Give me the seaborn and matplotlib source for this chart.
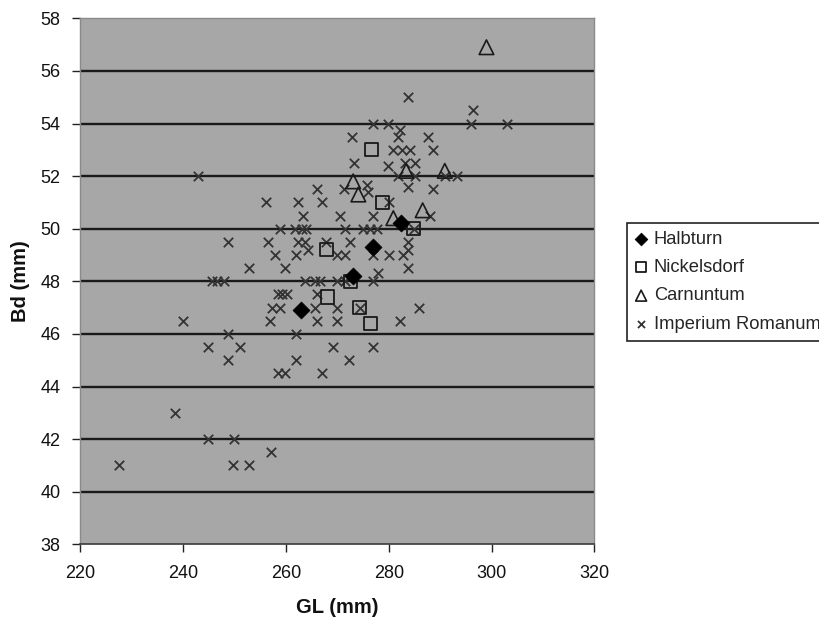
import matplotlib
matplotlib.use("Agg")
import matplotlib.pyplot as plt
import pandas as pd
import seaborn as sns

# ---------------- data ----------------
halbturn_gl = [262.9, 273.1, 276.9, 282.4]
halbturn_bd = [46.9, 48.2, 49.3, 50.2]

nickelsdorf_gl = [276.7, 278.8, 267.9, 284.9, 272.6, 268.1, 274.4, 276.4]
nickelsdorf_bd = [53.0, 51.0, 49.2, 50.0, 48.0, 47.4, 47.0, 46.4]

carnuntum_gl = [299.0, 290.9, 283.4, 273.1, 274.1, 286.6, 280.9]
carnuntum_bd = [56.9, 52.2, 52.2, 51.8, 51.3, 50.7, 50.4]

imperium_gl = [
    283.8,
    296.3,
    276.9, 279.9, 295.9, 302.9,
    282.2,
    272.8, 281.9, 287.7,
    280.9, 282.5, 284.1, 288.7,
    273.3, 283.2, 285.1, 279.9,
    243.0, 281.9, 285.1, 290.9, 293.2,
    275.7, 283.8,
    266.0, 271.3, 288.7,
    276.0,
    256.1, 262.4, 267.0, 280.1,
    263.4, 270.5, 276.9, 288.0,
    258.9, 261.8, 263.1, 264.0, 271.5, 275.1, 276.4, 277.7, 285.0,
    248.8, 256.5, 262.3, 263.7, 267.9, 272.5, 283.8,
    264.4, 283.8,
    257.9, 262.0, 269.9, 271.5, 276.9, 280.1, 282.7,
    252.9, 259.8, 283.8,
    278.0,
    245.6, 246.6, 247.9, 263.7, 265.7, 266.6, 269.9, 271.5, 276.9,
    258.4, 259.2, 260.2, 266.0,
    257.3, 258.9, 265.7, 270.0, 274.4, 285.8,
    240.0, 256.9, 266.0, 270.0, 282.2,
    248.8, 262.0,
    244.9, 251.1, 269.2, 276.9,
    248.8, 262.0, 272.2,
    258.5, 259.8, 267.0,
    238.5,
    244.9, 250.0,
    257.1,
    227.5, 249.8, 252.9,
]
imperium_bd = [
    55.0,
    54.5,
    54.0, 54.0, 54.0, 54.0,
    53.75,
    53.5, 53.5, 53.5,
    53.0, 53.0, 53.0, 53.0,
    52.5, 52.5, 52.5, 52.4,
    52.0, 52.0, 52.0, 52.0, 52.0,
    51.66, 51.6,
    51.5, 51.5, 51.5,
    51.4,
    51.0, 51.0, 51.0, 51.0,
    50.5, 50.5, 50.5, 50.5,
    50.0, 50.0, 50.0, 50.0, 50.0, 50.0, 50.0, 50.0, 50.0,
    49.5, 49.5, 49.5, 49.5, 49.5, 49.5, 49.5,
    49.2, 49.2,
    49.0, 49.0, 49.0, 49.0, 49.0, 49.0, 49.0,
    48.5, 48.5, 48.5,
    48.3,
    48.0, 48.0, 48.0, 48.0, 48.0, 48.0, 48.0, 48.0, 48.0,
    47.5, 47.5, 47.5, 47.5,
    47.0, 47.0, 47.0, 47.0, 47.0, 47.0,
    46.5, 46.5, 46.5, 46.5, 46.5,
    46.0, 46.0,
    45.5, 45.5, 45.5, 45.5,
    45.0, 45.0, 45.0,
    44.5, 44.5, 44.5,
    43.0,
    42.0, 42.0,
    41.5,
    41.0, 41.0, 41.0,
]

x_ticks = [220, 240, 260, 280, 300, 320]
y_ticks = [38, 40, 42, 44, 46, 48, 50, 52, 54, 56, 58]

# ---------------- figure ----------------
sns.set_style("white")
plt.rcParams["font.family"] = ["Liberation Sans", "DejaVu Sans"]

fig = plt.figure(figsize=(8.2, 6.21), dpi=100)
ax = fig.add_axes([80 / 820, 1 - 544.3 / 621, 514.5 / 820, 526.0 / 621])
ax.set_facecolor("#a7a7a7")

df_imp = pd.DataFrame({"GL": imperium_gl, "Bd": imperium_bd})
df_hal = pd.DataFrame({"GL": halbturn_gl, "Bd": halbturn_bd})
df_nic = pd.DataFrame({"GL": nickelsdorf_gl, "Bd": nickelsdorf_bd})
df_car = pd.DataFrame({"GL": carnuntum_gl, "Bd": carnuntum_bd})

sns.scatterplot(data=df_imp, x="GL", y="Bd", marker="x", color="#333333",
                s=46, linewidth=1.3, ax=ax, zorder=3, label="Imperium Romanum")
sns.scatterplot(data=df_car, x="GL", y="Bd", marker="^", facecolor="none",
                edgecolor="#1a1a1a", s=110, linewidth=1.2, ax=ax, zorder=4,
                label="Carnuntum")
sns.scatterplot(data=df_nic, x="GL", y="Bd", marker="s", facecolor="none",
                edgecolor="#1a1a1a", s=90, linewidth=1.3, ax=ax, zorder=4,
                label="Nickelsdorf")
sns.scatterplot(data=df_hal, x="GL", y="Bd", marker="D", color="black",
                edgecolor="black", s=75, linewidth=0.5, ax=ax, zorder=5,
                label="Halbturn")

ax.set_xlim(220, 320)
ax.set_ylim(38, 58)
ax.set_xticks(x_ticks)
ax.set_yticks(y_ticks)
ax.set_xticklabels([str(v) for v in x_ticks])
ax.set_yticklabels([str(v) for v in y_ticks])

# horizontal gridlines (not at top / bottom)
ax.yaxis.grid(True, color="#1a1a1a", linewidth=1.7, zorder=1)
ax.xaxis.grid(False)
ax.set_axisbelow(True)
for gl, v in zip(ax.get_ygridlines(), y_ticks):
    if v in (38, 58):
        gl.set_visible(False)

for side in ("left", "top", "right"):
    ax.spines[side].set_color("#8a8a8a")
    ax.spines[side].set_linewidth(1.0)
ax.spines["bottom"].set_color("#3a3a3a")
ax.spines["bottom"].set_linewidth(1.2)

ax.tick_params(axis="both", direction="out", length=6, width=1.0,
               color="#222222", labelsize=13, labelcolor="#111111")
ax.tick_params(axis="x", pad=9, bottom=True)
ax.tick_params(axis="y", pad=8, left=True)

ax.set_xlabel("GL (mm)", fontsize=14.5, fontweight="bold", color="#111111")
ax.set_ylabel("Bd (mm)", fontsize=14.5, fontweight="bold", color="#111111")
ax.xaxis.set_label_coords(0.5, -0.103)
ax.yaxis.set_label_coords(-0.098, 0.5)

handles, labels = ax.get_legend_handles_labels()
order = ["Halbturn", "Nickelsdorf", "Carnuntum", "Imperium Romanum"]
hmap = dict(zip(labels, handles))
leg = ax.legend([hmap[k] for k in order], order,
                loc="upper left", bbox_to_anchor=(627 / 820, 1 - 223 / 621),
                bbox_transform=fig.transFigure, borderaxespad=0,
                frameon=True, fancybox=False, edgecolor="#222222",
                framealpha=1, facecolor="white", fontsize=13.2,
                handlelength=0.7, handletextpad=0.35, labelspacing=0.62,
                borderpad=0.42, markerscale=0.75)
leg.get_frame().set_linewidth(1.2)

fig.savefig("out.png", dpi=100)
